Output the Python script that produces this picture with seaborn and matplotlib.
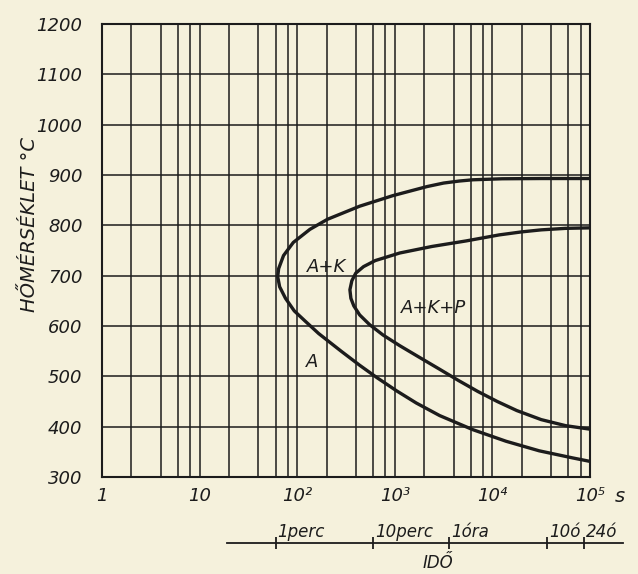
import numpy as np
import pandas as pd
import seaborn as sns

import matplotlib.pyplot as plt
from matplotlib.ticker import LogLocator, MultipleLocator, FixedLocator, NullFormatter

# leolvasott adatok: log10(idő [s]) és hőmérséklet [°C]
kulso_log = [5.0, 4.5, 4.1, 3.8, 3.66, 3.5, 3.33, 2.98, 2.64, 2.31, 2.13, 1.96, 1.86, 1.81, 1.80,
             1.82, 1.88, 1.97, 2.08, 2.22, 2.45, 2.64, 2.82, 3.02, 3.22, 3.46, 3.80, 4.14, 4.48, 4.82, 5.0]
kulso_T = [893, 893, 892.5, 890.5, 888, 884, 877, 859, 838, 812, 792, 766, 740, 714, 698,
           678, 655, 630, 610, 585, 550, 522, 497, 471, 447, 422, 394, 371, 352, 338, 331]

belso_log = [5.0, 4.75, 4.5, 4.3, 4.07, 3.73, 3.38, 3.05, 2.80, 2.68, 2.60, 2.56, 2.54, 2.55, 2.58,
             2.64, 2.74, 2.88, 3.05, 3.25, 3.46, 3.65, 3.85, 4.05, 4.25, 4.5, 4.75, 5.0]
belso_T = [795, 794, 791, 787, 781, 769, 758, 745, 730, 718, 705, 690, 672, 655, 640,
           622, 603, 582, 561, 538, 514, 492, 470, 450, 432, 414, 402, 395]

x_ticks = [1, 10, 100, 1000, 10000, 100000]
x_labels = ['1', '10', '10²', '10³', '10⁴', '10⁵']
y_ticks = list(range(300, 1300, 100))

ido_ticks = [60, 600, 3600, 36000, 86400]
ido_labels = ['1perc', '10perc', '1óra', '10ó', '24ó']

# feliratok a mezőkben (idő s, hőmérséklet)
mezo_nev = ['A+K', 'A+K+P', 'A']
mezo_t = [202, 2520, 141]
mezo_T = [718, 636, 529]

papir = '#f5f1dc'
tinta = '#1c1c1c'

sns.set_style('white')
plt.rcParams['font.family'] = ['DejaVu Sans']
plt.rcParams['text.color'] = tinta
plt.rcParams['xtick.color'] = tinta
plt.rcParams['ytick.color'] = tinta

fig = plt.figure(figsize=(6.38, 5.74), dpi=100, facecolor=papir)
ax = fig.add_axes([102/638, 97/574, 488/638, 453/574])
ax.set_facecolor(papir)
ax.set_xscale('log')

kulso = pd.DataFrame({'t': 10 ** np.array(kulso_log), 'T': kulso_T})
belso = pd.DataFrame({'t': 10 ** np.array(belso_log), 'T': belso_T})
sns.lineplot(data=kulso, x='t', y='T', sort=False, estimator=None, color=tinta, lw=2.4, ax=ax, zorder=5)
sns.lineplot(data=belso, x='t', y='T', sort=False, estimator=None, color=tinta, lw=2.4, ax=ax, zorder=5)

ax.set_xlim(1, 1e5)
ax.set_ylim(300, 1200)
ax.xaxis.set_major_locator(FixedLocator(x_ticks))
ax.set_xticklabels(x_labels, fontsize=13, fontstyle='italic')
ax.xaxis.set_minor_locator(LogLocator(base=10, subs=[2, 4, 6, 8], numticks=20))
ax.xaxis.set_minor_formatter(NullFormatter())
ax.yaxis.set_major_locator(MultipleLocator(100))
ax.set_yticks(y_ticks)
ax.set_yticklabels([str(v) for v in y_ticks], fontsize=13, fontstyle='italic')
ax.tick_params(axis='both', which='both', length=0)
ax.tick_params(axis='x', pad=7)
ax.tick_params(axis='y', pad=14)
ax.grid(True, which='both', color=tinta, lw=1.1)
for s in ax.spines.values():
    s.set_color(tinta)
    s.set_linewidth(1.5)
ax.set_xlabel('')
ax.set_ylabel('')

for nev, t, T in zip(mezo_nev, mezo_t, mezo_T):
    ax.text(t, T, nev, fontsize=13, fontstyle='italic', ha='center', va='center', zorder=6)

fig.text(620/638, 1 - 497/574, 's', fontsize=14, fontstyle='italic', ha='center', va='center')
fig.text(30/638, 1 - 225/574, 'HŐMÉRSÉKLET °C', rotation=90, fontsize=14,
         fontstyle='italic', ha='center', va='center')

# második idő tengely (perc, óra)
ax2 = fig.add_axes([227/638, 31/574, 396/638, 0.02])
ax2.set_xscale('log')
ax2.set_xlim(10 ** ((227 - 102) / 97.6), 10 ** ((623 - 102) / 97.6))
ax2.patch.set_alpha(0)
for k in ['top', 'left', 'right']:
    ax2.spines[k].set_visible(False)
ax2.spines['bottom'].set_color(tinta)
ax2.spines['bottom'].set_linewidth(1.3)
ax2.set_yticks([])
ax2.xaxis.set_major_locator(FixedLocator(ido_ticks))
ax2.xaxis.set_minor_locator(FixedLocator([]))
ax2.xaxis.set_major_formatter(NullFormatter())
ax2.tick_params(axis='x', bottom=True, direction='inout', length=8, width=1.3, color=tinta)
for t, lbl in zip(ido_ticks, ido_labels):
    ax2.annotate(lbl, xy=(t, 0), xycoords=('data', 'axes fraction'), xytext=(1.5, 4),
                 textcoords='offset points', ha='left', va='baseline', fontsize=12, fontstyle='italic')

fig.text(438/638, 1 - 563/574, 'IDŐ', fontsize=12, fontstyle='italic', ha='center', va='center')

plt.savefig('out.png', dpi=100, facecolor=papir)
